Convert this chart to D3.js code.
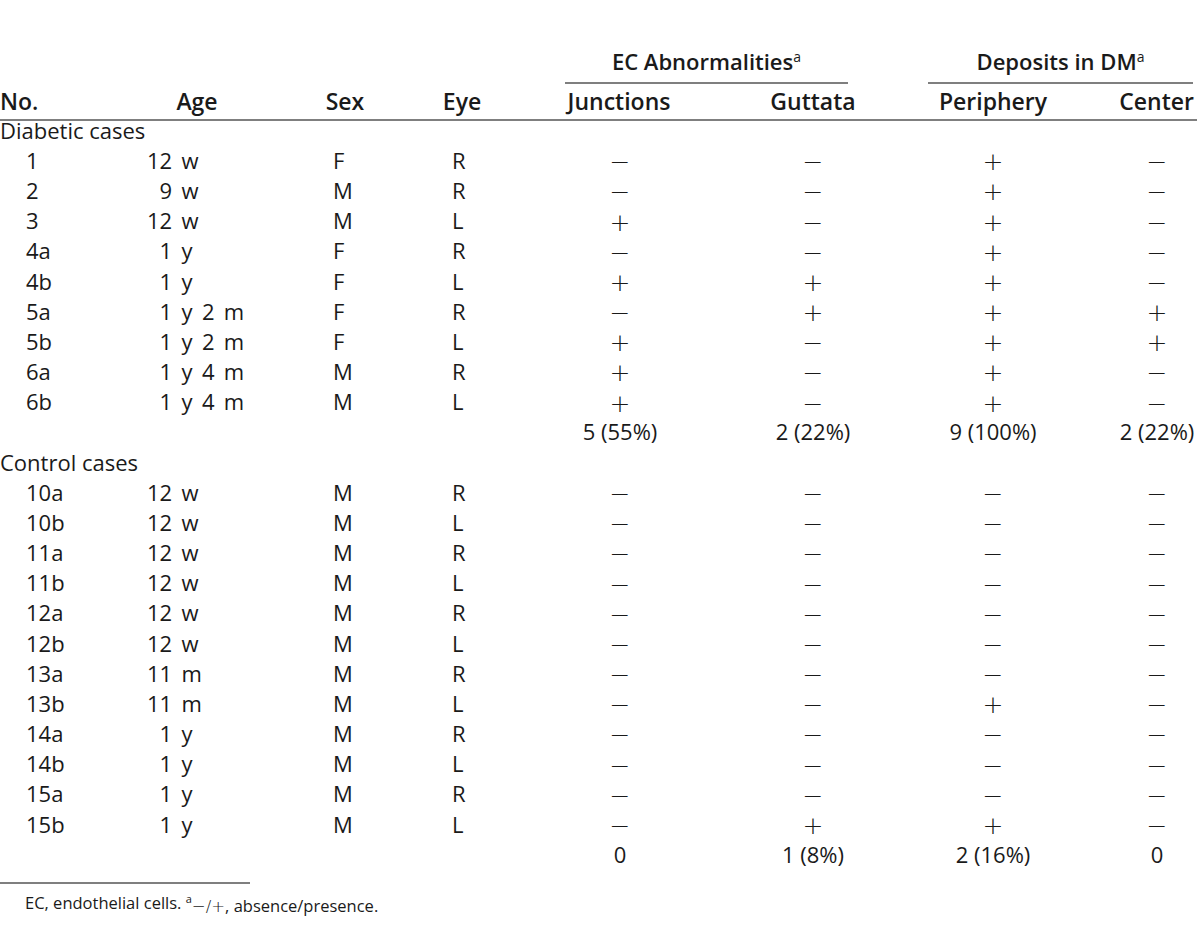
<!DOCTYPE html>
<html>
<head>
<meta charset="utf-8">
<script src="https://cdn.jsdelivr.net/npm/d3@7"></script>
<style>
	body { margin: 0; background: #fff; }
	svg text { font-family: "Open Sans", "Noto Sans", sans-serif; fill: #1a1a1a; }
</style>
</head>
<body>
<svg id="chart" width="1200" height="937"></svg>
<script>
// diabetic cases
var diabeticNo = ["1", "2", "3", "4a", "4b", "5a", "5b", "6a", "6b"];
var diabeticAge = ["12 w", "9 w", "12 w", "1 y", "1 y", "1 y 2 m", "1 y 2 m", "1 y 4 m", "1 y 4 m"];
var diabeticSex = ["F", "M", "M", "F", "F", "F", "F", "M", "M"];
var diabeticEye = ["R", "R", "L", "R", "L", "R", "L", "R", "L"];
var diabeticJunctions = [0, 0, 1, 0, 1, 0, 1, 1, 1];
var diabeticGuttata = [0, 0, 0, 0, 1, 1, 0, 0, 0];
var diabeticPeriphery = [1, 1, 1, 1, 1, 1, 1, 1, 1];
var diabeticCenter = [0, 0, 0, 0, 0, 1, 1, 0, 0];
var diabeticTotals = ["5 (55%)", "2 (22%)", "9 (100%)", "2 (22%)"];

// control cases
var controlNo = ["10a", "10b", "11a", "11b", "12a", "12b", "13a", "13b", "14a", "14b", "15a", "15b"];
var controlAge = ["12 w", "12 w", "12 w", "12 w", "12 w", "12 w", "11 m", "11 m", "1 y", "1 y", "1 y", "1 y"];
var controlSex = ["M", "M", "M", "M", "M", "M", "M", "M", "M", "M", "M", "M"];
var controlEye = ["R", "L", "R", "L", "R", "L", "R", "L", "R", "L", "R", "L"];
var controlJunctions = [0, 0, 0, 0, 0, 0, 0, 0, 0, 0, 0, 0];
var controlGuttata = [0, 0, 0, 0, 0, 0, 0, 0, 0, 0, 0, 1];
var controlPeriphery = [0, 0, 0, 0, 0, 0, 0, 1, 0, 0, 0, 1];
var controlCenter = [0, 0, 0, 0, 0, 0, 0, 0, 0, 0, 0, 0];
var controlTotals = ["0", "1 (8%)", "2 (16%)", "0"];

var headers = ["No.", "Age", "Sex", "Eye", "Junctions", "Guttata", "Periphery", "Center"];
var groups = ["EC Abnormalities", "Deposits in DM"];
var footnote = "EC, endothelial cells. ";

var svg = d3.select("#chart");
var fs = "22px";

// columns
var colKeys = ["no", "age", "sex", "eye", "junctions", "guttata", "periphery", "center"];
var headX = d3.scaleOrdinal().domain(colKeys).range([0, 197, 345, 462, 619, 813, 993, 1194]);
var headAnchor = d3.scaleOrdinal().domain(colKeys).range(["start", "middle", "middle", "middle", "middle", "middle", "middle", "end"]);
var cellX = d3.scaleOrdinal().domain(colKeys).range([26, 147, 333, 452, 620, 813, 993, 1157]);
var markCols = ["junctions", "guttata", "periphery", "center"];

// rows: 0 = "Diabetic cases" ... 24 = control totals
var y = d3.scaleLinear().domain([0, 24]).range([131, 855]);

// group headings
var groupSpan = [[565, 848], [928, 1193]];
groups.forEach(function(g, i){
	var mid = (groupSpan[i][0] + groupSpan[i][1]) / 2;
	var t = svg.append("text")
		.attr("x", mid).attr("y", 62).attr("dy", "0.35em")
		.attr("text-anchor", "middle")
		.style("font-size", "22px").style("font-weight", 600)
		.text(g);
	t.append("tspan").attr("dy", "-0.55em").style("font-size", "14px").style("font-weight", 400).text("a");
	svg.append("line")
		.attr("x1", groupSpan[i][0]).attr("x2", groupSpan[i][1])
		.attr("y1", 83).attr("y2", 83)
		.attr("stroke", "#555").attr("stroke-width", 1.5);
});

// column headings
svg.selectAll("text.head")
	.data(colKeys)
	.enter().append("text")
	.attr("class", "head")
	.attr("x", function(d){ return headX(d); })
	.attr("y", 102).attr("dy", "0.35em")
	.attr("text-anchor", function(d){ return headAnchor(d); })
	.style("font-size", "23px").style("font-weight", 600)
	.text(function(d, i){ return headers[i]; });

svg.append("line")
	.attr("x1", 0).attr("x2", 1197).attr("y1", 120).attr("y2", 120)
	.attr("stroke", "#555").attr("stroke-width", 1.5);

function section(label, start, no, age, sex, eye, marks, totals){
	svg.append("text")
		.attr("x", 0).attr("y", y(start)).attr("dy", "0.35em")
		.style("font-size", fs)
		.text(label);

	var rows = no.map(function(d, i){
		return { no: d, age: age[i], sex: sex[i], eye: eye[i], marks: marks.map(function(m){ return m[i]; }), idx: start + 1 + i };
	});

	var g = svg.selectAll(null).data(rows).enter().append("g")
		.attr("transform", function(d){ return "translate(0," + y(d.idx) + ")"; });

	g.append("text").attr("x", cellX("no")).attr("dy", "0.35em").style("font-size", fs)
		.text(function(d){ return d.no; });
	// single digit ages sit one figure to the right
	g.append("text").attr("x", cellX("age")).attr("dy", "0.35em").style("font-size", fs)
		.text(function(d){ return (/^\d\D/.test(d.age) ? "\u2007" : "") + d.age.replace(/ /g, "\u00a0\u2009"); });
	g.append("text").attr("x", cellX("sex")).attr("dy", "0.35em").style("font-size", fs)
		.text(function(d){ return d.sex; });
	g.append("text").attr("x", cellX("eye")).attr("dy", "0.35em").style("font-size", fs)
		.text(function(d){ return d.eye; });

	markCols.forEach(function(c, j){
		g.append("text")
			.attr("x", cellX(c)).attr("dy", "0.36em")
			.attr("text-anchor", "middle")
			.style("font-family", "'DejaVu Sans', sans-serif")
			.style("font-weight", 200)
			.style("font-size", "25px")
			.text(function(d){ return d.marks[j] ? "+" : "\u2212"; });
	});

	svg.selectAll(null).data(totals).enter().append("text")
		.attr("x", function(d, j){ return cellX(markCols[j]); })
		.attr("y", y(start + no.length + 1)).attr("dy", "0.35em")
		.attr("text-anchor", "middle")
		.style("font-size", fs)
		.text(function(d){ return d; });
}

section("Diabetic cases", 0, diabeticNo, diabeticAge, diabeticSex, diabeticEye,
	[diabeticJunctions, diabeticGuttata, diabeticPeriphery, diabeticCenter], diabeticTotals);
section("Control cases", 11, controlNo, controlAge, controlSex, controlEye,
	[controlJunctions, controlGuttata, controlPeriphery, controlCenter], controlTotals);

// footnote
svg.append("line")
	.attr("x1", 0).attr("x2", 250).attr("y1", 883).attr("y2", 883)
	.attr("stroke", "#555").attr("stroke-width", 1.5);

var fn = svg.append("text")
	.attr("x", 25).attr("y", 903).attr("dy", "0.35em")
	.style("font-size", "16.5px")
	.text(footnote);
fn.append("tspan").attr("dy", "-0.5em").style("font-size", "11px").text("a");
fn.append("tspan").attr("dy", "0.5em").style("font-family", "'DejaVu Sans', sans-serif").style("font-weight", 200).text("\u2212/+");
fn.append("tspan").text(", absence/presence.");
</script>
</body>
</html>
